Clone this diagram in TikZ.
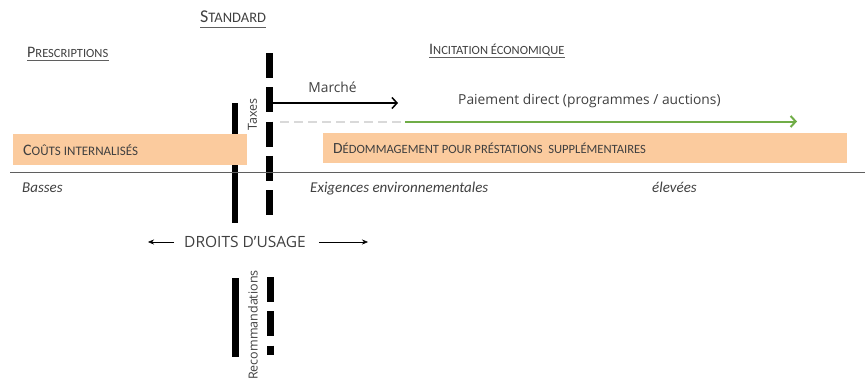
\documentclass[tikz,border=0pt]{standalone}
\usepackage{fontspec}
\setmainfont{Carlito}
\newfontfamily\segoe{Open Sans}
\usetikzlibrary{arrows.meta}
\definecolor{peach}{RGB}{251,203,158}
\definecolor{leafgreen}{RGB}{112,173,71}
\definecolor{rulegray}{RGB}{95,95,95}
\definecolor{inkgray}{RGB}{64,64,64}
% first letter large, the rest as small capitals
\newcommand{\scfirst}[4]{{\fontsize{#1}{#1}\selectfont #3}{\fontsize{#2}{#2}\selectfont #4}}
\tikzset{
  heading/.style={inner sep=0pt,anchor=base west,text=inkgray},
  band/.style={fill=peach,draw=none,inner sep=0pt,anchor=north west},
  solidbar/.style={line width=6.5pt},
  dashbar/.style={line width=7pt,dash pattern=on 25pt off 9.3pt},
  axislabel/.style={inner sep=0pt,anchor=base west,text=inkgray,font=\fontsize{15}{15}\selectfont\itshape},
  plainlabel/.style={inner sep=0pt,text=inkgray,font=\segoe\fontsize{13.8}{13.8}\selectfont},
  sidelabel/.style={inner sep=0pt,rotate=90,text=inkgray,font=\segoe\fontsize{12.5}{12.5}\selectfont}
}
\begin{document}
\begin{tikzpicture}[x=1pt,y=-1pt]
\useasboundingbox (0,0) rectangle (865,388);

% headings
\node[heading] (standard) at (200,23) {\scfirst{18}{14.5}{S}{TANDARD}};
\draw[rulegray,line width=0.8pt] ([yshift=-4pt]standard.base west) -- ([yshift=-4pt]standard.base east);
\node[heading] (prescr) at (27,57) {\scfirst{16}{12.5}{P}{RESCRIPTIONS}};
\draw[rulegray,line width=0.8pt] ([yshift=-3pt]prescr.base west) -- ([yshift=-3pt]prescr.base east);
\node[heading] (incit) at (429,54) {\scfirst{16}{12.5}{I}{NCITATION ÉCONOMIQUE}};
\draw[rulegray,line width=0.8pt] ([yshift=-3pt]incit.base west) -- ([yshift=-3pt]incit.base east);

% bars
\coordinate (taxtop) at (235,103);
\coordinate (taxbot) at (235,223);
\coordinate (stdtop) at (269.5,53);
\coordinate (stdbot) at (269.5,215.2);
\coordinate (rectop) at (235.5,278);
\coordinate (recbot) at (235.5,357);
\coordinate (recdtop) at (270.5,277);
\coordinate (recdbot) at (270.5,355);
\draw[solidbar] (taxtop) -- (taxbot);
\draw[dashbar] (stdtop) -- (stdbot);
\draw[solidbar] (rectop) -- (recbot);
\draw[dashbar] (recdtop) -- (recdbot);

\node[sidelabel] (taxes) at (252.5,114.5) {Taxes};
\node[sidelabel] (recomm) at (253,325) {Recommandations};

% market and payment
\coordinate (mktstart) at (273,103);
\coordinate (mktend) at (398,103);
\draw[line width=1.5pt,-{Straight Barb[length=5pt,width=11pt]}] (mktstart) -- (mktend);
\node[plainlabel,anchor=base] (market) at (332.5,92) {Marché};
\coordinate (paystart) at (280,121.5);
\coordinate (paymid) at (405,121.5);
\coordinate (payend) at (797,121.5);
\draw[black!15,line width=2pt,dash pattern=on 9pt off 5pt] (paystart) -- (paymid);
\draw[leafgreen,line width=2pt,-{Straight Barb[length=5pt,width=11pt]}] (paymid) -- (payend);
\node[plainlabel,anchor=base west] (payment) at (458,104) {Paiement direct (programmes / auctions)};

% bands
\node[band,minimum width=234pt,minimum height=31pt] (costbox) at (13,134) {};
\node[heading,anchor=west] (costtext) at ([xshift=10pt]costbox.west) {\scfirst{16}{13}{C}{OÛTS INTERNALISÉS}};
\node[band,minimum width=524pt,minimum height=30pt] (compbox) at (323,133) {};
\node[heading,anchor=west] (comptext) at ([xshift=10pt]compbox.west) {\scfirst{15.5}{12.6}{D}{ÉDOMMAGEMENT POUR PRÉSTATIONS\ \ SUPPLÉMENTAIRES}};

% axis
\coordinate (axisleft) at (10,172.5);
\coordinate (axisright) at (865,172.5);
\draw[rulegray,line width=1.2pt] (axisleft) -- (axisright);
\node[axislabel] (low) at (22,192) {Basses};
\node[axislabel] (req) at (310,192) {Exigences environnementales};
\node[axislabel] (high) at (652,192) {élevées};

% usage rights
\node[plainlabel,font=\segoe\fontsize{15.5}{15.5}\selectfont] (rights) at (245,242) {DROITS D’USAGE};
\coordinate (rightsleft) at (148,242);
\coordinate (rightsright) at (368,242);
\draw[-{Stealth[length=6pt,width=5pt]}] ([xshift=-10pt]rights.west) -- (rightsleft);
\draw[-{Stealth[length=6pt,width=5pt]}] ([xshift=13pt]rights.east) -- (rightsright);
\end{tikzpicture}
\end{document}
